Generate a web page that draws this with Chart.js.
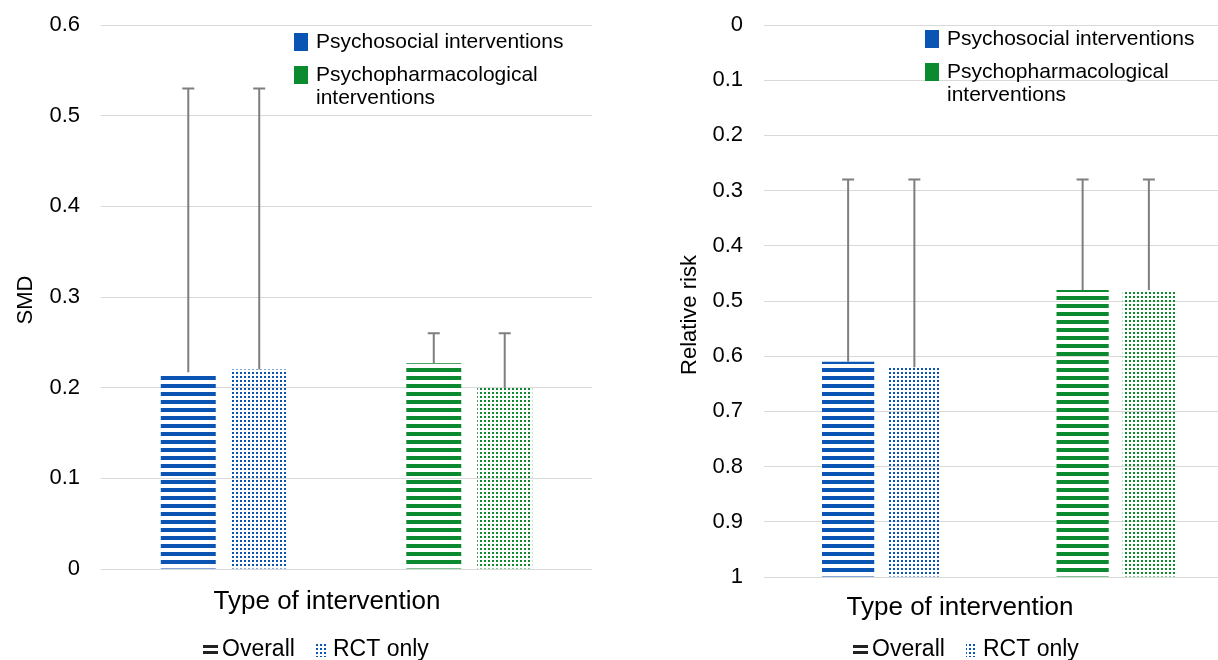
<!DOCTYPE html>
<html>
<head>
<meta charset="utf-8">
<script src="https://cdn.jsdelivr.net/npm/chart.js@4/dist/chart.umd.min.js"></script>
<style>
  body { margin: 0; background: #fff; }
  #page { position: relative; width: 1218px; height: 660px; overflow: hidden; }
  #leftBox { position: absolute; left: 0; top: 0; width: 609px; height: 660px; }
  #rightBox { position: absolute; left: 609px; top: 0; width: 640px; height: 660px; }
</style>
</head>
<body>
<div id="page">
  <div id="leftBox"><canvas id="smdChart" width="609" height="660"></canvas></div>
  <div id="rightBox"><canvas id="rrChart" width="640" height="660"></canvas></div>
</div>
<script>
// categories (colour) and series (pattern)
const categories = ['Psychosocial interventions', 'Psychopharmacological interventions'];
const seriesNames = ['Overall', 'RCT only'];

// left panel: SMD
const smdOverall = [0.217, 0.227];
const smdRct = [0.22, 0.2];
const smdOverallUpper = [0.53, 0.26];
const smdRctUpper = [0.53, 0.26];

// right panel: relative risk (axis reversed)
const rrOverall = [0.61, 0.48];
const rrRct = [0.62, 0.48];
const rrOverallUpper = [0.28, 0.28];
const rrRctUpper = [0.28, 0.28];

const blue = '#0a55b4';
const green = '#0b8a2f';
const catColors = [blue, green];
const FONT = '"Liberation Sans", Arial, sans-serif';

function stripes(color) {
    const c = document.createElement('canvas');
    c.width = 8; c.height = 8;
    const g = c.getContext('2d');
    g.fillStyle = color;
    g.fillRect(0, 0, 8, 4);
    return g.createPattern(c, 'repeat');
}

function dots(color) {
    const c = document.createElement('canvas');
    c.width = 4; c.height = 4;
    const g = c.getContext('2d');
    g.fillStyle = color;
    g.fillRect(0, 0, 2, 2);
    return g.createPattern(c, 'repeat');
}

// upper error bars with a small cap
const errorBars = {
    id: 'errorBars',
    afterDatasetsDraw(chart) {
        const ctx = chart.ctx;
        const y = chart.scales.y;
        ctx.save();
        ctx.strokeStyle = '#7f7f7f';
        ctx.lineWidth = 2;
        chart.data.datasets.forEach((ds, i) => {
            const meta = chart.getDatasetMeta(i);
            meta.data.forEach((bar, j) => {
                const yUp = y.getPixelForValue(ds.errorUpper[j]);
                ctx.beginPath();
                ctx.moveTo(bar.x, bar.y);
                ctx.lineTo(bar.x, yUp);
                ctx.moveTo(bar.x - 6, yUp);
                ctx.lineTo(bar.x + 6, yUp);
                ctx.stroke();
            });
        });
        ctx.restore();
    }
};

// colour legend inside the plot, axis titles and pattern key below
const extras = {
    id: 'extras',
    afterDraw(chart, args, opts) {
        const ctx = chart.ctx;
        ctx.save();
        ctx.fillStyle = '#000';
        ctx.textBaseline = 'middle';
        ctx.textAlign = 'left';

        // colour legend
        ctx.font = '21px ' + FONT;
        let ly = opts.legendY;
        categories.forEach((name, i) => {
            // wrap long names
            const words = name.split(' ');
            const lines = [];
            let cur = '';
            words.forEach(w => {
                const test = cur ? cur + ' ' + w : w;
                if (ctx.measureText(test).width > 262 && cur) {
                    lines.push(cur);
                    cur = w;
                } else {
                    cur = test;
                }
            });
            lines.push(cur);
            ctx.fillStyle = catColors[i];
            ctx.fillRect(opts.legendX, ly - 9, 14, 18);
            ctx.fillStyle = '#000';
            lines.forEach((ln, k) => ctx.fillText(ln, opts.legendX + 22, ly + k * 23));
            ly += lines.length * 23 + 10;
        });

        // y-axis title
        ctx.save();
        ctx.font = '22px ' + FONT;
        ctx.textAlign = 'center';
        ctx.translate(opts.yTitleX, opts.yTitleY);
        ctx.rotate(-Math.PI / 2);
        ctx.fillText(opts.yTitle, 0, 0);
        ctx.restore();

        // x-axis title
        ctx.font = '26px ' + FONT;
        ctx.textAlign = 'center';
        ctx.fillText('Type of intervention', opts.titleX, opts.titleY);

        // pattern key
        ctx.textAlign = 'left';
        ctx.font = '23px ' + FONT;
        const kx = opts.keyX, ky = opts.keyY;
        ctx.fillStyle = '#222';
        ctx.fillRect(kx, ky - 5, 15, 3);
        ctx.fillRect(kx, ky + 1, 15, 3);
        ctx.fillStyle = '#000';
        ctx.fillText(seriesNames[0], kx + 19, ky);
        ctx.fillStyle = dots(blue);
        ctx.fillRect(kx + 113, ky - 7, 11, 14);
        ctx.fillStyle = '#000';
        ctx.fillText(seriesNames[1], kx + 130, ky);
        ctx.restore();
    }
};

function makeChart(id, cfg) {
    return new Chart(document.getElementById(id), {
        type: 'bar',
        data: {
            labels: categories,
            datasets: [
                {
                    label: seriesNames[0],
                    data: cfg.overall,
                    errorUpper: cfg.overallUpper,
                    backgroundColor: catColors.map(stripes),
                    base: cfg.base,
                    categoryPercentage: cfg.catPct,
                    barPercentage: cfg.barPct
                },
                {
                    label: seriesNames[1],
                    data: cfg.rct,
                    errorUpper: cfg.rctUpper,
                    backgroundColor: catColors.map(dots),
                    base: cfg.base,
                    categoryPercentage: cfg.catPct,
                    barPercentage: cfg.barPct
                }
            ]
        },
        options: {
            responsive: false,
            animation: false,
            devicePixelRatio: 1,
            layout: { padding: cfg.padding },
            plugins: {
                legend: { display: false },
                tooltip: { enabled: false },
                extras: cfg.extras
            },
            scales: {
                x: {
                    ticks: { display: false },
                    grid: { display: false },
                    border: { display: false },
                    afterFit(scale) { scale.height = 0; }
                },
                y: {
                    min: cfg.min,
                    max: cfg.max,
                    reverse: cfg.reverse,
                    ticks: {
                        stepSize: 0.1,
                        padding: 21,
                        color: '#000',
                        font: { family: FONT, size: 22 },
                        callback: v => String(Math.round(v * 10) / 10)
                    },
                    grid: { color: '#d9d9d9', lineWidth: 1, drawTicks: false },
                    border: { display: false },
                    afterFit(scale) {
                        scale.width = cfg.yWidth;
                        scale.paddingTop = 0;
                        scale.paddingBottom = 0;
                    }
                }
            }
        },
        plugins: [errorBars, extras]
    });
}

makeChart('smdChart', {
    overall: smdOverall, rct: smdRct,
    overallUpper: smdOverallUpper, rctUpper: smdRctUpper,
    base: 0, min: 0, max: 0.6, reverse: false,
    yWidth: 101,
    catPct: 0.578, barPct: 0.775,
    padding: { left: 0, right: 17, top: 25, bottom: 91 },
    extras: { legendX: 294, legendY: 42, titleX: 327, titleY: 602, keyX: 203, keyY: 650,
              yTitle: 'SMD', yTitleX: 26, yTitleY: 300 }
});

makeChart('rrChart', {
    overall: rrOverall, rct: rrRct,
    overallUpper: rrOverallUpper, rctUpper: rrRctUpper,
    base: 1, min: 0, max: 1, reverse: true,
    yWidth: 87,
    catPct: 0.565, barPct: 0.788,
    padding: { left: 68, right: 16, top: 25, bottom: 83 },
    extras: { legendX: 316, legendY: 39, titleX: 351, titleY: 608, keyX: 244, keyY: 650,
              yTitle: 'Relative risk', yTitleX: 81, yTitleY: 315 }
});
</script>
</body>
</html>
